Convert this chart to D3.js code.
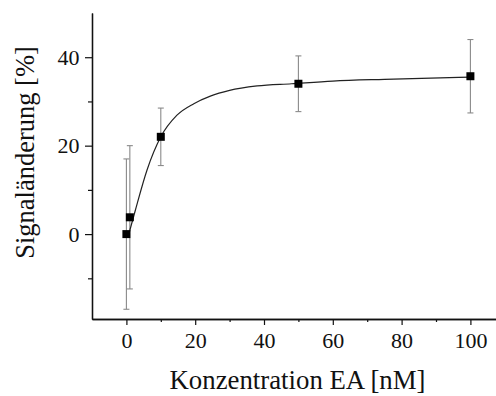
<!DOCTYPE html>
<html><head><meta charset="utf-8">
<script src="https://cdn.jsdelivr.net/npm/d3@7"></script>
<style>
html,body{margin:0;padding:0;background:#fff;}
svg{display:block;}
svg text{font-family:"Liberation Serif","Times New Roman",serif !important;fill:#111;}
</style></head>
<body><svg id="c" width="496" height="396"></svg>
<script>
// data
const concentrations = [0, 1, 10, 50, 100];
const signalChange = [0, 3.8, 22.0, 34.0, 35.7];
const errorValues = [17.0, 16.2, 6.5, 6.3, 8.3];
// fitted curve
const fitX = [0.7, 2.6, 6, 10, 14.7, 19.6, 24.4, 30, 38, 48, 60, 75, 100];
const fitY = [0, 5.4, 14.5, 22, 26.9, 29.5, 31.2, 32.5, 33.5, 34.0, 34.6, 35.0, 35.5];
const xMajorTicks = [0, 20, 40, 60, 80, 100];
const xMinorTicks = [10, 30, 50, 70, 90];
const yMajorTicks = [0, 20, 40];
const yMinorTicks = [-10, 10, 30];
const xTitle = "Konzentration EA [nM]";
const yTitle = "Signaländerung [%]";

const svg = d3.select("#c");
const x = d3.scaleLinear().domain([-10, 110]).range([92, 504.8]);
const y = d3.scaleLinear().domain([-19.2, 50]).range([319, 13]);

const FONT = "'Liberation Serif','Times New Roman',serif";
const xAxisMaj = d3.axisBottom(x).tickValues(xMajorTicks).tickSize(6).tickPadding(7.5).tickSizeOuter(0);
const xAxisMin = d3.axisBottom(x).tickValues(xMinorTicks).tickSize(3).tickFormat("").tickSizeOuter(0);
const yAxisMaj = d3.axisLeft(y).tickValues(yMajorTicks).tickSize(7).tickPadding(5.5).tickSizeOuter(0);
const yAxisMin = d3.axisLeft(y).tickValues(yMinorTicks).tickSize(4).tickFormat("").tickSizeOuter(0);

function style(g){
  g.attr("font-family", FONT).attr("font-size", 22);
  g.selectAll("path.domain").attr("stroke","#111").attr("stroke-width",1.3);
  g.selectAll(".tick line").attr("stroke","#111").attr("stroke-width",1.2);
  g.selectAll(".tick text").attr("fill","#111");
}
style(svg.append("g").attr("transform","translate(0,319)").call(xAxisMaj));
style(svg.append("g").attr("transform","translate(0,319)").call(xAxisMin));
style(svg.append("g").attr("transform","translate(92,0)").call(yAxisMaj));
style(svg.append("g").attr("transform","translate(92,0)").call(yAxisMin));

// titles
svg.append("text").attr("x",297.5).attr("y",389.3).attr("text-anchor","middle")
  .attr("font-family",FONT).attr("font-size",26.8).text(xTitle);
svg.append("text").attr("transform","translate(33.5,152.5) rotate(-90)").attr("text-anchor","middle")
  .attr("font-family",FONT).attr("font-size",26.5).text(yTitle);

// error bars
const pts = concentrations.map((c,i)=>({c, v:signalChange[i], e:errorValues[i]}));
const eb = svg.append("g").attr("stroke","#8a8a8a").attr("stroke-width",1.1);
pts.forEach(p=>{
  eb.append("line").attr("x1",x(p.c)).attr("x2",x(p.c)).attr("y1",y(p.v-p.e)).attr("y2",y(p.v+p.e));
  [p.v-p.e, p.v+p.e].forEach(v=>{
    eb.append("line").attr("x1",x(p.c)-3).attr("x2",x(p.c)+3).attr("y1",y(v)).attr("y2",y(v));
  });
});

// fit curve
const line = d3.line().x(d=>x(d[0])).y(d=>y(d[1])).curve(d3.curveMonotoneX);
svg.append("path").datum(fitX.map((d,i)=>[d,fitY[i]])).attr("d",line)
  .attr("fill","none").attr("stroke","#222").attr("stroke-width",1.2);

// markers
svg.append("g").selectAll("rect").data(pts).join("rect")
  .attr("x",d=>x(d.c)-4).attr("y",d=>y(d.v)-4).attr("width",8).attr("height",8).attr("fill","#000");
</script></body></html>
